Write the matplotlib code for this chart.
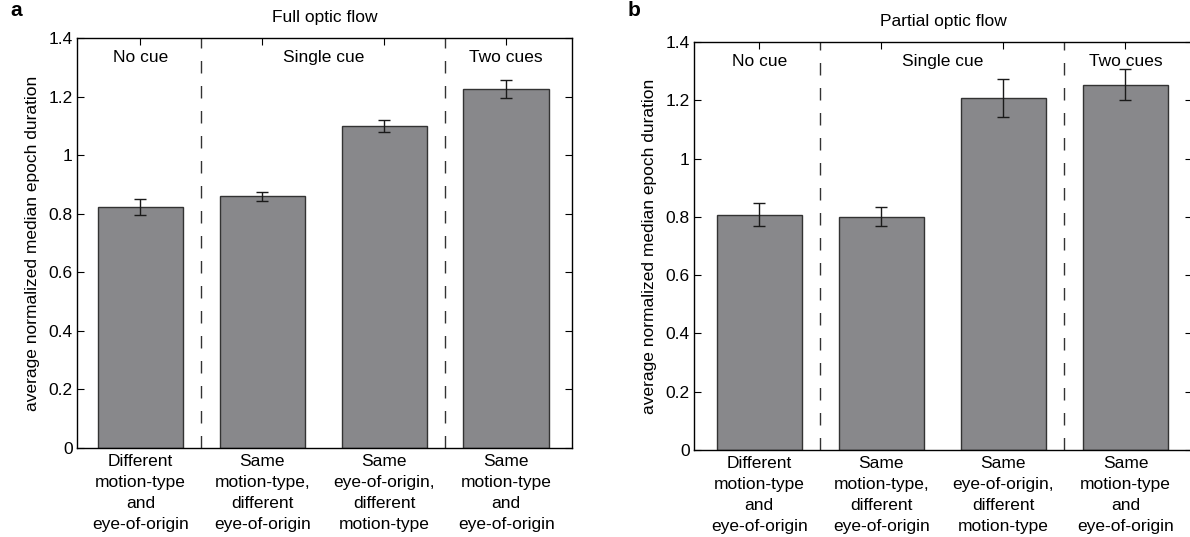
import matplotlib
matplotlib.use("Agg")
import matplotlib.pyplot as plt
import numpy as np

plt.rcParams['font.family'] = ['Liberation Sans', 'DejaVu Sans']

categories = ["Different\nmotion-type\nand\neye-of-origin",
              "Same\nmotion-type,\ndifferent\neye-of-origin",
              "Same\neye-of-origin,\ndifferent\nmotion-type",
              "Same\nmotion-type\nand\neye-of-origin"]
groups = ["No cue", "Single cue", "Two cues"]
group_pos = [1, 2.5, 4]
dividers = [1.5, 3.5]

full_values = [0.823, 0.860, 1.100, 1.226]
full_errors = [0.026, 0.015, 0.020, 0.031]
partial_values = [0.808, 0.800, 1.208, 1.254]
partial_errors = [0.041, 0.033, 0.065, 0.052]

yticks = [0, 0.2, 0.4, 0.6, 0.8, 1.0, 1.2, 1.4]
yticklabels = ["0", "0.2", "0.4", "0.6", "0.8", "1", "1.2", "1.4"]

W, H = 1190, 537
fig = plt.figure(figsize=(W / 100, H / 100), dpi=100)

def px_axes(l, t, r, b):
    return fig.add_axes([l / W, 1 - b / H, (r - l) / W, (b - t) / H])

ax_a = px_axes(77, 38, 572, 448)
ax_b = px_axes(694, 42, 1192, 450)

bar_color = "#88888b"
fs = 12.5

def draw(ax, values, errors, title, xlim):
    x = np.arange(1, len(values) + 1)
    ax.bar(x, values, width=0.7, color=bar_color, edgecolor="#333333", linewidth=1.0, zorder=2)
    ax.errorbar(x, values, yerr=errors, fmt="none", ecolor="#1a1a1a", elinewidth=1.0,
                capsize=4, capthick=1.0, zorder=3)
    for d in dividers:
        ax.axvline(d, color="#333333", linewidth=1.0, linestyle=(0, (9, 9)), zorder=1)
    for g, gp in zip(groups, group_pos):
        ax.text(gp, 1.333, g, ha="center", va="center", fontsize=fs)
    ax.set_xlim(*xlim)
    ax.set_ylim(0, 1.4)
    ax.set_xticks(x)
    ax.set_xticklabels(categories, fontsize=fs, linespacing=1.5)
    ax.set_yticks(yticks)
    ax.set_yticklabels(yticklabels, fontsize=fs)
    ax.tick_params(direction="in", length=5, width=0.8, top=True, right=True, pad=3)
    ax.tick_params(axis="x", pad=4)
    for s in ax.spines.values():
        s.set_linewidth(1.0)
    ax.set_ylabel("average normalized median epoch duration", fontsize=fs, labelpad=6)
    ax.text(0.5, 1.05, title, transform=ax.transAxes, ha="center", va="center", fontsize=fs)

draw(ax_a, full_values, full_errors, "Full optic flow", (0.48, 4.54))
draw(ax_b, partial_values, partial_errors, "Partial optic flow", (0.465, 4.545))

fig.text(10 / W, 1 - 10 / H, "a", fontsize=15, fontweight="bold", ha="left", va="center")
fig.text(628 / W, 1 - 10 / H, "b", fontsize=15, fontweight="bold", ha="left", va="center")

fig.savefig("out.png", dpi=100)
